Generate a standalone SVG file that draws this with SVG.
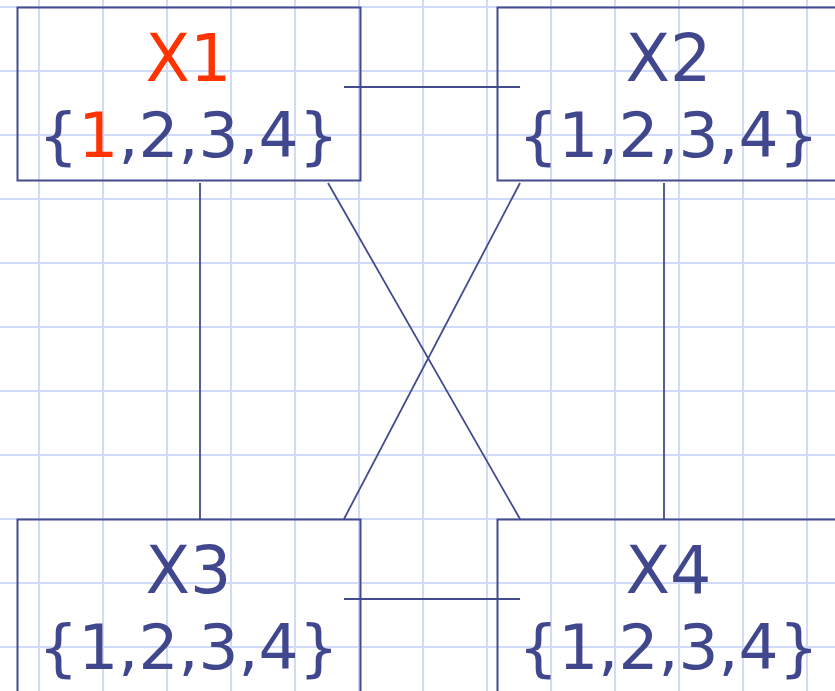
<svg xmlns="http://www.w3.org/2000/svg" width="835" height="691" viewBox="0 0 835 691">
<style>
.grid line{stroke:#cfdbf9;stroke-width:2}
.box{fill:none;stroke:#434a8e;stroke-width:2}
.conn line{stroke:#434a8e;stroke-width:1.8}
.t{font-family:"DejaVu Sans",Verdana,sans-serif;fill:#41478d;text-anchor:middle}
.title{font-size:65px}
.set{font-size:63px}
.red{fill:#ff3300}
</style>
<rect width="835" height="691" fill="#ffffff"/>
<g class="grid">
<line x1="39" y1="0" x2="39" y2="691"/>
<line x1="103" y1="0" x2="103" y2="691"/>
<line x1="167" y1="0" x2="167" y2="691"/>
<line x1="231" y1="0" x2="231" y2="691"/>
<line x1="295" y1="0" x2="295" y2="691"/>
<line x1="359" y1="0" x2="359" y2="691"/>
<line x1="423" y1="0" x2="423" y2="691"/>
<line x1="487" y1="0" x2="487" y2="691"/>
<line x1="551" y1="0" x2="551" y2="691"/>
<line x1="615" y1="0" x2="615" y2="691"/>
<line x1="679" y1="0" x2="679" y2="691"/>
<line x1="743" y1="0" x2="743" y2="691"/>
<line x1="807" y1="0" x2="807" y2="691"/>
<line x1="0" y1="7" x2="835" y2="7"/>
<line x1="0" y1="71" x2="835" y2="71"/>
<line x1="0" y1="135" x2="835" y2="135"/>
<line x1="0" y1="199" x2="835" y2="199"/>
<line x1="0" y1="263" x2="835" y2="263"/>
<line x1="0" y1="327" x2="835" y2="327"/>
<line x1="0" y1="391" x2="835" y2="391"/>
<line x1="0" y1="455" x2="835" y2="455"/>
<line x1="0" y1="519" x2="835" y2="519"/>
<line x1="0" y1="583" x2="835" y2="583"/>
<line x1="0" y1="647" x2="835" y2="647"/>
</g>
<g class="conn">
<line x1="344" y1="87" x2="520" y2="87"/>
<line x1="344" y1="599" x2="520" y2="599"/>
<line x1="200" y1="183" x2="200" y2="519"/>
<line x1="664" y1="183" x2="664" y2="519"/>
<line x1="328" y1="183" x2="520" y2="519"/>
<line x1="520" y1="183" x2="344" y2="519"/>
</g>
<g id="X1">
<rect class="box" x="17.5" y="7.5" width="343" height="173"/>
<text class="t title red" x="188.5" y="81">X1</text>
<text class="t set" x="188.5" y="157">{<tspan class="red">1</tspan>,2,3,4}</text>
</g>
<g id="X2">
<rect class="box" x="497.5" y="7.5" width="343" height="173"/>
<text class="t title" x="668.5" y="81">X2</text>
<text class="t set" x="668.5" y="157">{1,2,3,4}</text>
</g>
<g id="X3">
<rect class="box" x="17.5" y="519.5" width="343" height="173"/>
<text class="t title" x="188.5" y="593">X3</text>
<text class="t set" x="188.5" y="669">{1,2,3,4}</text>
</g>
<g id="X4">
<rect class="box" x="497.5" y="519.5" width="343" height="173"/>
<text class="t title" x="668.5" y="593">X4</text>
<text class="t set" x="668.5" y="669">{1,2,3,4}</text>
</g>
</svg>
